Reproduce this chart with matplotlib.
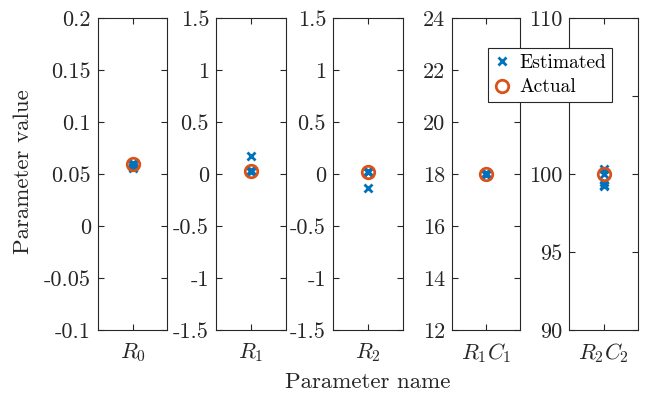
import numpy as np
import matplotlib
matplotlib.use('Agg')
import matplotlib.pyplot as plt

plt.rcParams['font.family'] = 'cmr10'
plt.rcParams['mathtext.fontset'] = 'cm'
plt.rcParams['axes.unicode_minus'] = False

# parameter names and axis ranges
names = ['$R_0$', '$R_1$', '$R_2$', '$R_1C_1$', '$R_2C_2$']
ylims = [(-0.1, 0.2), (-1.5, 1.5), (-1.5, 1.5), (12, 24), (90, 110)]
yticks = [[-0.1, -0.05, 0, 0.05, 0.1, 0.15, 0.2],
          [-1.5, -1, -0.5, 0, 0.5, 1, 1.5],
          [-1.5, -1, -0.5, 0, 0.5, 1, 1.5],
          [12, 14, 16, 18, 20, 22, 24],
          [90, 95, 100, 105, 110]]
# the 105 label sits hidden behind the legend in the original
yticklabels = [['-0.1', '-0.05', '0', '0.05', '0.1', '0.15', '0.2'],
               ['-1.5', '-1', '-0.5', '0', '0.5', '1', '1.5'],
               ['-1.5', '-1', '-0.5', '0', '0.5', '1', '1.5'],
               ['12', '14', '16', '18', '20', '22', '24'],
               ['90', '95', '100', '', '110']]

# actual and estimated values
actual = [0.06, 0.03, 0.02, 18.0, 100.0]
estimated = [[0.056, 0.057, 0.060, 0.061, 0.059],
             [0.17, 0.03, 0.02, 0.04, 0.03],
             [0.02, -0.13, 0.02, 0.03, 0.02],
             [18.0, 18.05, 17.95, 18.0, 18.02],
             [100.35, 99.5, 99.3, 99.2, 100.0]]

blue = '#0072BD'
orange = '#D95319'

W, H = 645, 395
fig = plt.figure(figsize=(W / 100, H / 100), dpi=100)

lefts = [98, 216, 333, 452, 569]
rights = [167, 286, 403, 520, 638]
top, bottom = 18, 330

for i in range(5):
    ax = fig.add_axes([lefts[i] / W, 1 - bottom / H,
                       (rights[i] - lefts[i]) / W, (bottom - top) / H])
    ax.plot(np.ones(len(estimated[i])), estimated[i], 'x', color=blue,
            markersize=6, markeredgewidth=2, label='Estimated')
    ax.plot([1], [actual[i]], 'o', color=orange, markerfacecolor='none',
            markersize=9, markeredgewidth=2, label='Actual')
    ax.set_xlim(0, 2)
    ax.set_ylim(*ylims[i])
    ax.set_xticks([1])
    ax.set_xticklabels([names[i]], fontsize=16.5)
    ax.set_yticks(yticks[i])
    ax.set_yticklabels(yticklabels[i])
    ax.tick_params(direction='in', length=4, width=0.8, labelsize=16,
                   top=True, right=True, colors='#262626', labelcolor='#262626',
                   pad=5)
    ax.tick_params(axis='x', pad=8)
    for s in ax.spines.values():
        s.set_color('#262626')
        s.set_linewidth(0.8)
    if i == 0:
        handles, labels = ax.get_legend_handles_labels()

fig.text(23 / W, 1 - 172 / H, 'Parameter value', rotation=90,
         ha='center', va='center', fontsize=16.5, color='#262626')
fig.text(368 / W, 1 - 382 / H, 'Parameter name', ha='center', va='center',
         fontsize=16.5, color='#262626')

leg = fig.legend(handles, labels, loc='upper left',
                 bbox_to_anchor=(488 / W, 1 - 48 / H), fontsize=14,
                 frameon=True, fancybox=False, framealpha=1,
                 edgecolor='#262626', handlelength=0.8, handletextpad=0.5,
                 borderpad=0.3, labelspacing=0.35, borderaxespad=0)
leg.get_frame().set_linewidth(0.8)

fig.savefig('out.png', dpi=100)
